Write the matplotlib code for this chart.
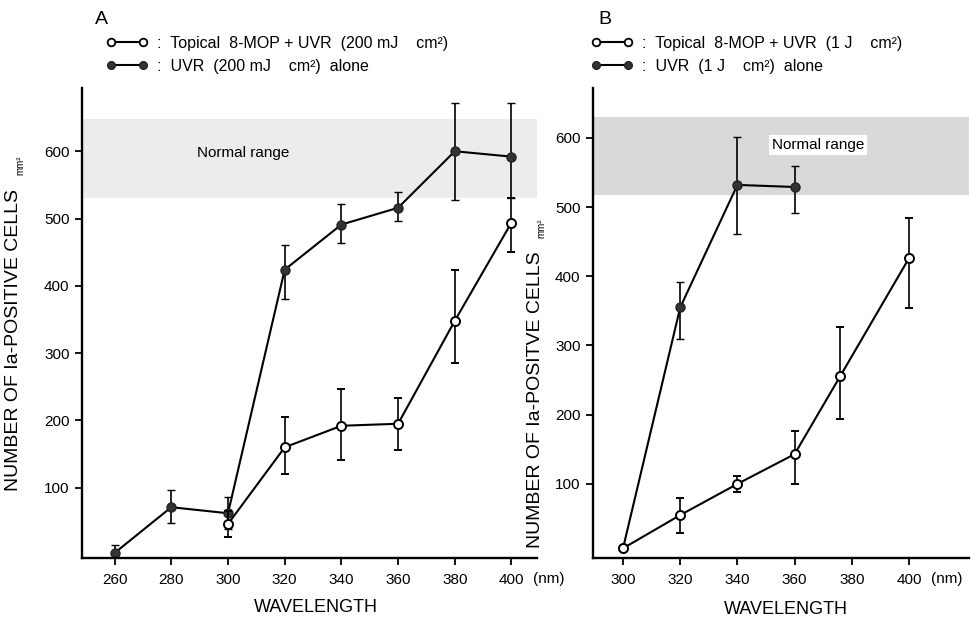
import numpy as np
import matplotlib
matplotlib.use('Agg')
import matplotlib.pyplot as plt
from matplotlib.lines import Line2D

plt.rcParams['font.family'] = ['Liberation Sans', 'DejaVu Sans']

# ---- panel A data (200 mJ/cm2) ----
a_uvr_x = [260, 280, 300, 320, 340, 360, 380, 400]
a_uvr_y = [3, 71, 62, 424, 491, 516, 600, 592]
a_uvr_lo = [3, 23, 24, 44, 27, 20, 73, 62]
a_uvr_hi = [12, 25, 24, 37, 31, 23, 72, 80]

a_mop_x = [300, 320, 340, 360, 380, 400]
a_mop_y = [46, 160, 192, 195, 348, 494]
a_mop_lo = [19, 40, 51, 39, 63, 43]
a_mop_hi = [19, 45, 55, 38, 76, 36]

# ---- panel B data (1 J/cm2) ----
b_uvr_x = [300, 320, 340, 360]
b_uvr_y = [7, 355, 532, 529]
b_uvr_lo = [0, 45, 71, 38]
b_uvr_hi = [0, 37, 69, 30]

b_mop_x = [300, 320, 340, 360, 376, 400]
b_mop_y = [7, 55, 100, 143, 256, 426]
b_mop_lo = [0, 26, 12, 43, 62, 72]
b_mop_hi = [0, 24, 11, 33, 71, 58]

normal_a = (530, 648)
normal_b = (517, 630)

W, H = 971, 617
fig = plt.figure(figsize=(W / 100, H / 100), dpi=100)


def fx(px):
    return px / W


def fy(py):
    return 1 - py / H


axA = fig.add_axes([fx(82), fy(558), fx(537 - 82), fy(88) - fy(558)])
axB = fig.add_axes([fx(593), fy(558), fx(969 - 593), fy(88) - fy(558)])

filled = dict(color='black', lw=1.5, marker='o', ms=6.5, mfc='#333333',
              mec='#222222', mew=1.0, ecolor='black', elinewidth=1.2,
              capsize=3, capthick=1.2)
openm = dict(color='black', lw=1.5, marker='o', ms=6.5, mfc='white',
             mec='black', mew=1.4, ecolor='black', elinewidth=1.2,
             capsize=3, capthick=1.2)


def style(ax, xlim, ylim, xticks):
    ax.set_xlim(*xlim)
    ax.set_ylim(*ylim)
    ax.set_xticks(xticks)
    ax.set_yticks([100, 200, 300, 400, 500, 600])
    for s in ['top', 'right']:
        ax.spines[s].set_visible(False)
    for s in ['left', 'bottom']:
        ax.spines[s].set_linewidth(1.7)
    ax.tick_params(direction='out', length=5, width=1.3, labelsize=11, pad=4)
    ax.tick_params(axis='x', pad=6)


# panel A
axA.axhspan(*normal_a, color='#ececec', lw=0, zorder=0)
axA.errorbar(a_uvr_x, a_uvr_y, yerr=[a_uvr_lo, a_uvr_hi], zorder=2, **filled)
axA.errorbar(a_mop_x, a_mop_y, yerr=[a_mop_lo, a_mop_hi], zorder=3, **openm)
axA.text(289, 597, 'Normal range', fontsize=11, va='center', ha='left')
style(axA, (248.5, 409), (-4.5, 694), [260, 280, 300, 320, 340, 360, 380, 400])

# panel B
axB.axhspan(*normal_b, color='#d9d9d9', lw=0, zorder=0)
axB.errorbar(b_uvr_x, b_uvr_y, yerr=[b_uvr_lo, b_uvr_hi], zorder=2, **filled)
axB.errorbar(b_mop_x, b_mop_y, yerr=[b_mop_lo, b_mop_hi], zorder=3, **openm)
axB.text(352, 590, 'Normal range', fontsize=11, va='center', ha='left',
         bbox=dict(facecolor='white', edgecolor='none', pad=2))
style(axB, (289.5, 421), (-7, 672), [300, 320, 340, 360, 380, 400])

# axis labels
fig.text(fx(316), fy(607), 'WAVELENGTH', fontsize=13, ha='center', va='center')
fig.text(fx(786), fy(609), 'WAVELENGTH', fontsize=13, ha='center', va='center')
fig.text(fx(549), fy(579), '(nm)', fontsize=11, ha='center', va='center')
fig.text(fx(947), fy(579), '(nm)', fontsize=11, ha='center', va='center')

fig.text(fx(14), fy(340), 'NUMBER OF Ia-POSITIVE CELLS', fontsize=14,
         rotation=90, ha='center', va='center')
fig.text(fx(20), fy(165), 'mm²', fontsize=7, rotation=90, ha='center', va='center')
fig.text(fx(535), fy(400), 'NUMBER OF Ia-POSITVE CELLS', fontsize=14,
         rotation=90, ha='center', va='center')
fig.text(fx(541), fy(228), 'mm²', fontsize=7, rotation=90, ha='center', va='center')

# panel letters
fig.text(fx(95), fy(19), 'A', fontsize=14, ha='left', va='center')
fig.text(fx(598), fy(19), 'B', fontsize=14, ha='left', va='center')

# legends
h_open = Line2D([], [], color='black', lw=1.5, marker='o', ms=5.5,
                mfc='white', mec='black', mew=1.3)
h_fill = Line2D([], [], color='black', lw=1.5, marker='o', ms=5.5,
                mfc='#333333', mec='#222222')
leg_kw = dict(loc='upper left', frameon=False, numpoints=2, fontsize=11.5,
              handlelength=2.6, handletextpad=0.6, labelspacing=0.5,
              borderpad=0, borderaxespad=0)
fig.legend([h_open, h_fill],
           [':  Topical  8-MOP + UVR  (200 mJ    cm²)',
            ':  UVR  (200 mJ    cm²)  alone'],
           bbox_to_anchor=(fx(106), fy(36)), **leg_kw)
fig.legend([h_open, h_fill],
           [':  Topical  8-MOP + UVR  (1 J    cm²)',
            ':  UVR  (1 J    cm²)  alone'],
           bbox_to_anchor=(fx(591), fy(36)), **leg_kw)

plt.savefig('out.png', dpi=100)
plt.close('all')
